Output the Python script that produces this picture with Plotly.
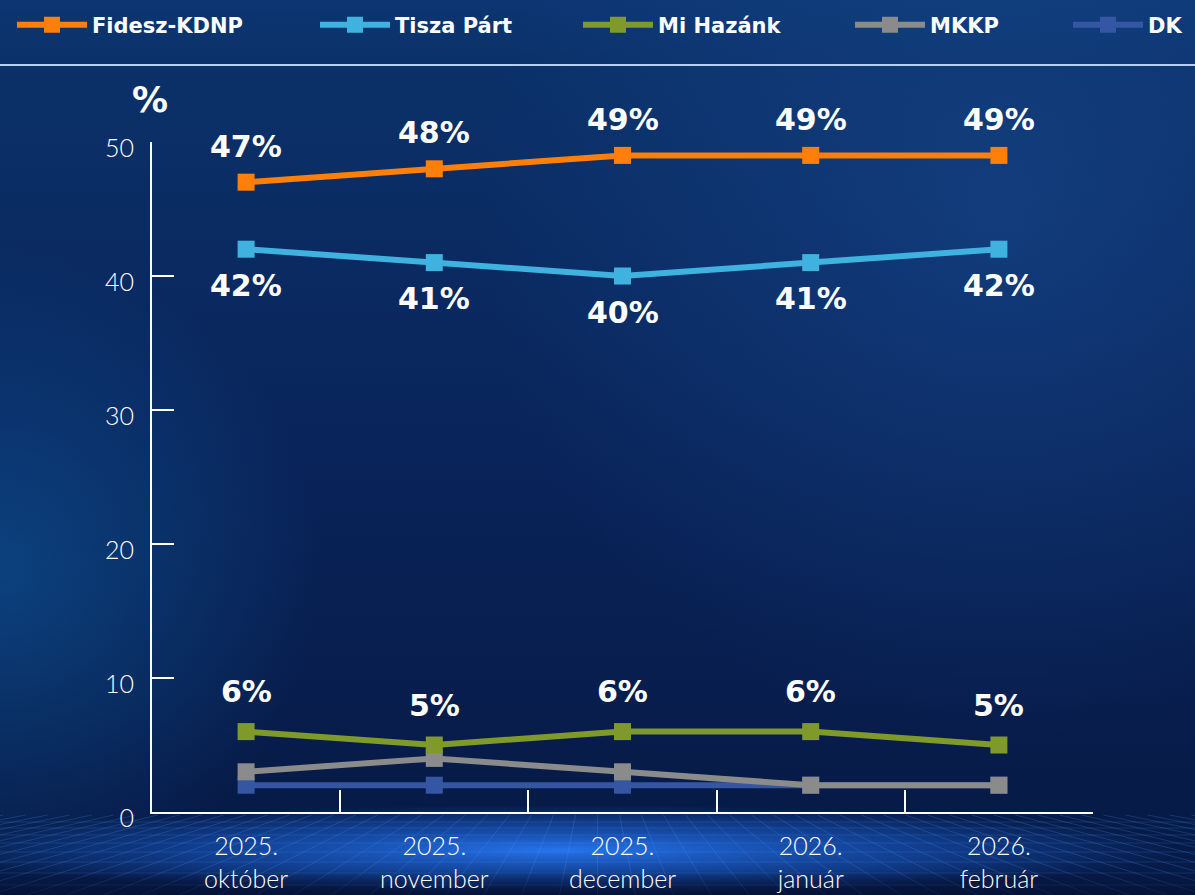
import base64
import plotly.graph_objects as go

# ---------------- data ----------------
months = ["2025.<br>október", "2025.<br>november", "2025.<br>december",
          "2026.<br>január", "2026.<br>február"]
fidesz = [47, 48, 49, 49, 49]
tisza = [42, 41, 40, 41, 42]
mihazank = [6, 5, 6, 6, 5]
mkkp = [3, 4, 3, 2, 2]
dk = [2, 2, 2, 2, 2]
y_ticks = [0, 10, 20, 30, 40, 50]

W, H = 1195, 895
ML, MR, MT, MB = 152, 102, 142, 83
PW, PH = W - ML - MR, H - MT - MB

# ---------------- background (svg) ----------------
grid = []
cx = W / 2
for i in range(-30, 31):
    xb = cx + i * 38
    xt = cx + i * 22
    grid.append(f"<line x1='{xt:.1f}' y1='815' x2='{xb:.1f}' y2='895' stroke='#4f9cff' stroke-opacity='0.22' stroke-width='1'/>")
for yy in [822, 828, 835, 843, 852, 862, 873, 885]:
    grid.append(f"<line x1='0' y1='{yy}' x2='{W}' y2='{yy}' stroke='#4f9cff' stroke-opacity='0.18' stroke-width='1'/>")
svg = f"""<svg xmlns='http://www.w3.org/2000/svg' width='{W}' height='{H}' viewBox='0 0 {W} {H}'>
<defs>
<linearGradient id='g' x1='0' y1='0' x2='0' y2='1'>
<stop offset='0' stop-color='#0c3672'/>
<stop offset='0.07' stop-color='#0b3169'/>
<stop offset='0.5' stop-color='#09245a'/>
<stop offset='0.88' stop-color='#071b48'/>
<stop offset='1' stop-color='#071b48'/>
</linearGradient>
<radialGradient id='r1' cx='1000' cy='220' r='520' gradientUnits='userSpaceOnUse'>
<stop offset='0' stop-color='#1b509a' stop-opacity='0.45'/>
<stop offset='1' stop-color='#1b509a' stop-opacity='0'/>
</radialGradient>
<radialGradient id='r2' cx='0' cy='570' r='320' gradientUnits='userSpaceOnUse'>
<stop offset='0' stop-color='#0d4f90' stop-opacity='0.7'/>
<stop offset='1' stop-color='#0d4f90' stop-opacity='0'/>
</radialGradient>
<radialGradient id='r3' cx='0' cy='0' r='1' gradientUnits='userSpaceOnUse' gradientTransform='translate(560 850) scale(620 45)'>
<stop offset='0' stop-color='#2a7dff' stop-opacity='0.9'/>
<stop offset='0.6' stop-color='#1a5fd0' stop-opacity='0.5'/>
<stop offset='1' stop-color='#1a5fd0' stop-opacity='0'/>
</radialGradient>
<linearGradient id='bot' x1='0' y1='0' x2='0' y2='1'>
<stop offset='0' stop-color='#050f30' stop-opacity='0'/>
<stop offset='1' stop-color='#050f30' stop-opacity='0.7'/>
</linearGradient>
</defs>
<rect width='{W}' height='{H}' fill='url(#g)'/>
<rect width='{W}' height='{H}' fill='url(#r1)'/>
<rect width='{W}' height='{H}' fill='url(#r2)'/>
<rect y='790' width='{W}' height='105' fill='url(#r3)'/>
{''.join(grid)}
<rect y='870' width='{W}' height='25' fill='url(#bot)'/>
<line x1='0' y1='65' x2='{W}' y2='65' stroke='#b5d0f2' stroke-width='2'/>
</svg>"""
bg_src = "data:image/svg+xml;base64," + base64.b64encode(svg.encode()).decode()

# ---------------- figure ----------------
# name, values, colour, legend id, legend text start (px)
series = [
    ("DK", dk, "#3557a3", "legend5", 1148),
    ("MKKP", mkkp, "#8b8b8b", "legend4", 930),
    ("Mi Hazánk", mihazank, "#7f9a2b", "legend3", 658),
    ("Tisza Párt", tisza, "#3fb2df", "legend2", 395),
    ("Fidesz-KDNP", fidesz, "#ff7f0a", "legend", 92),
]

fig = go.Figure()
for name, vals, col, lg, _ in series:
    fig.add_trace(go.Scatter(
        x=months, y=vals, name=name, mode="lines+markers", legend=lg,
        line=dict(color=col, width=6),
        marker=dict(symbol="square", size=17, color=col),
        cliponaxis=False,
    ))

BOLD = "DejaVu Sans, sans-serif"
LIGHT = "Lato, DejaVu Sans, sans-serif"
label_font = dict(family=BOLD, size=30, color="white", weight=700)
annotations = []
for vals, shift in [(fidesz, 36), (tisza, -36), (mihazank, 40)]:
    for m, v in zip(months, vals):
        annotations.append(dict(x=m, y=v, text=f"{v}%", showarrow=False,
                                yshift=shift, font=label_font))
annotations.append(dict(xref="paper", yref="paper", x=-2 / PW, y=1 + 42 / PH,
                        xanchor="center", yanchor="middle",
                        text="%", showarrow=False,
                        font=dict(family=BOLD, size=36, color="white", weight=700)))

legend_font = dict(family=BOLD, size=21, color="white", weight=700)
legends = {}
for name, vals, col, lg, tx in series:
    legends[lg] = dict(orientation="h", xref="container", yref="container",
                       x=(tx - 80) / W, y=1 - 25 / H, xanchor="left", yanchor="middle",
                       font=legend_font, bgcolor="rgba(0,0,0,0)", itemsizing="trace",
                       itemwidth=70)

tick_font = dict(family=LIGHT, size=25, color="white", weight=300)
fig.update_layout(
    width=W, height=H,
    margin=dict(l=ML, r=MR, t=MT, b=MB, autoexpand=False),
    paper_bgcolor="#09245a", plot_bgcolor="rgba(0,0,0,0)",
    showlegend=True,
    annotations=annotations,
    images=[dict(source=bg_src, xref="paper", yref="paper",
                 x=-ML / PW, y=1 + MT / PH, sizex=W / PW, sizey=H / PH,
                 xanchor="left", yanchor="top", sizing="stretch", layer="below")],
    xaxis=dict(type="category", range=[-0.5, 4.5], showgrid=False, zeroline=False,
               showline=True, linecolor="white", linewidth=2,
               ticks="inside", tickson="boundaries", ticklen=22, tickwidth=2,
               tickcolor="white", ticklabelstandoff=11, tickfont=tick_font),
    yaxis=dict(range=[0, 50], tickvals=y_ticks, showgrid=False, zeroline=False,
               showline=True, linecolor="white", linewidth=2,
               ticks="inside", ticklen=22, tickwidth=2, tickcolor="white",
               ticklabelstandoff=11, ticklabelshift=6, tickfont=tick_font),
    **legends,
)

fig.write_html("out.html", config={"displayModeBar": False},
               post_script="document.body.style.margin='0';document.body.style.overflow='hidden';")
